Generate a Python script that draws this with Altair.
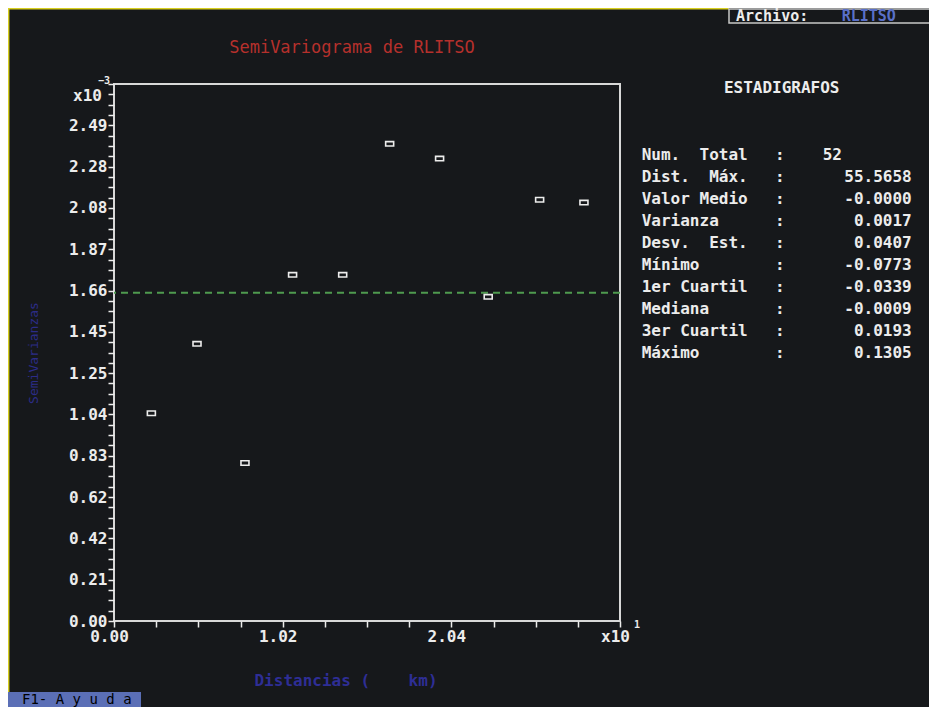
import altair as alt
import pandas as pd

# ---------------- data ----------------
LAG = [0.226, 0.502, 0.792, 1.080, 1.383, 1.667, 1.969, 2.263, 2.574, 2.842]      # x10^1 km
SEMIVAR = [1.044, 1.393, 0.794, 1.740, 1.740, 2.398, 2.324, 1.629, 2.117, 2.103]  # x10^-3
SILL = [1.65]                                                                       # variance line, x10^-3

X_STEP = 1.02
Y_STEP = 0.2076
X_MAX = 3.06
Y_MAX = 2.6988

STAT_NAMES = ["Num.  Total", "Dist.  Máx.", "Valor Medio", "Varianza", "Desv.  Est.",
              "Mínimo", "1er Cuartil", "Mediana", "3er Cuartil", "Máximo"]
STAT_VALUES = ["52", "55.5658", "-0.0000", "0.0017", "0.0407",
               "-0.0773", "-0.0339", "-0.0009", "0.0193", "0.1305"]

TITLE = "SemiVariograma de RLITSO"
X_TITLE = "Distancias (    km)"
Y_TITLE = "SemiVarianzas"

NB = "\u00a0"

# ---------------- style ----------------
BG = "#16181b"
FG = "#ececec"
FONT = "DejaVu Sans Mono"

x_ticks = [round(i * X_STEP / 4, 5) for i in range(13)]
y_ticks = [round(i * Y_STEP / 4, 5) for i in range(53)]

pts = pd.DataFrame({"lag": LAG, "gamma": SEMIVAR})
sill = pd.DataFrame({"gamma": SILL})

x_scale = alt.Scale(domain=[0, X_MAX], nice=False, zero=False)
y_scale = alt.Scale(domain=[0, Y_MAX], nice=False, zero=False)

x_enc = alt.X(
    "lag:Q", scale=x_scale,
    axis=alt.Axis(
        values=x_ticks, title=None, grid=False, domain=False, ticks=True,
        tickSize=6, tickWidth=1.5, tickColor=FG, tickOpacity=1,
        labelExpr="round(datum.value/0.255) % 4 == 0 ? (datum.value > 3 ? 'x10' : format(datum.value, '.2f')) : ''",
        labelFont=FONT, labelFontSize=16, labelFontWeight="bold", labelColor=FG,
        labelPadding=1, labelOffset=-5, labelOverlap=False, labelFlush=False, labelBound=False,
    ),
)
y_enc = alt.Y(
    "gamma:Q", scale=y_scale,
    axis=alt.Axis(
        values=y_ticks, title=None, grid=False, domain=False, ticks=True,
        tickSize=6, tickWidth=1.5, tickColor=FG, tickOpacity=1,
        labelExpr="(round(datum.value/0.0519) % 4 == 0 && datum.value < 2.6) ? format(datum.value, '.2f') : ''",
        labelFont=FONT, labelFontSize=16, labelFontWeight="bold", labelColor=FG,
        labelPadding=1, labelOverlap=False, labelFlush=False, labelBound=False,
    ),
)

points = alt.Chart(pts).mark_point(
    shape="M-1,-0.55L1,-0.55L1,0.55L-1,0.55Z", size=64, filled=False,
    stroke=FG, strokeWidth=1.6, opacity=1,
).encode(x=x_enc, y=y_enc)

sill_rule = alt.Chart(sill).mark_rule(
    color="#4f9a4f", strokeDash=[7, 5], strokeWidth=2
).encode(y=y_enc)

one = pd.DataFrame({"k": [0]})


def txt(text, x, y, color=FG, size=16, align="left", weight="normal", angle=0):
    kw = dict(align=align, baseline="middle", font=FONT, fontSize=size,
              fontWeight=weight, color=color, text=text)
    if angle:
        kw["angle"] = angle
    return alt.Chart(one).mark_text(**kw).encode(x=alt.value(x), y=alt.value(y))


# stats panel
stats = pd.DataFrame({
    "name": [s.replace(" ", NB) for s in STAT_NAMES],
    "value": STAT_VALUES,
    "row": list(range(len(STAT_NAMES))),
})
stats_base = alt.Chart(stats).transform_calculate(
    py="71 + 22*datum.row", vx="datum.row == 0 ? 728 : 797.7"
)
stat_names = stats_base.mark_text(
    align="left", baseline="middle", font=FONT, fontSize=16, fontWeight="bold", color=FG
).encode(x=alt.value(527.7), y=alt.Y("py:Q", scale=None), text="name:N")
stat_colons = stats_base.mark_text(
    align="left", baseline="middle", font=FONT, fontSize=16, fontWeight="bold", color=FG, text=":"
).encode(x=alt.value(661), y=alt.Y("py:Q", scale=None))
stat_values = stats_base.mark_text(
    align="right", baseline="middle", font=FONT, fontSize=16, fontWeight="bold", color=FG
).encode(x=alt.X("vx:Q", scale=None), y=alt.Y("py:Q", scale=None), text="value:N")

# boxes and borders
archivo_box = alt.Chart(one).mark_rect(fill=BG, stroke="#c8c8c8", strokeWidth=1.5).encode(
    x=alt.value(615), x2=alt.value(840), y=alt.value(-75), y2=alt.value(-61))
f1_box = alt.Chart(one).mark_rect(fill="#5b6fb6").encode(
    x=alt.value(-106), x2=alt.value(27), y=alt.value(608), y2=alt.value(623))
yellow_v = alt.Chart(one).mark_rule(color="#d8d021", strokeWidth=1.5).encode(
    x=alt.value(-105.3), y=alt.value(-76), y2=alt.value(608))
yellow_h = alt.Chart(one).mark_rule(color="#d8d021", strokeWidth=1.5).encode(
    x=alt.value(-106), x2=alt.value(615), y=alt.value(-75.3))

layers = [
    yellow_v, yellow_h, archivo_box, f1_box,
    sill_rule, points,
    txt(TITLE, 238, -36, color="#b5302c", size=17, align="center"),
    txt("Archivo:", 622, -68, size=15, weight="bold"),
    txt("RLITSO", 727.7, -68, color="#5a70c8", size=15, weight="bold"),
    txt("ESTADIGRAFOS", 667.7, 4, size=16, align="center", weight="bold"),
    stat_names, stat_colons, stat_values,
    txt(Y_TITLE, -80, 269, color="#2c2c88", size=13, align="center", angle=270),
    txt(X_TITLE.replace(" ", NB), 232, 597, color="#2e2e96", size=16, align="center", weight="bold"),
    txt("x10", -12, 12, size=16, align="right", weight="bold"),
    txt("\u2212" + "3", -4, -3, size=10, align="right", weight="bold"),
    txt("1", 520, 541, size=10, align="left", weight="bold"),
    txt("F1-" + NB + "A" + NB + "y" + NB + "u" + NB + "d" + NB + "a", -92, 616, color="#000000", size=14),
]

chart = alt.layer(*layers).properties(
    width=506, height=537,
    padding={"left": 106, "top": 76, "right": 309, "bottom": 86},
    autosize=alt.AutoSizeParams(type="none"),
    background=BG,
).configure_view(stroke="#d8d8d8", strokeWidth=2, fill=BG)

chart.save("out.html", embed_options={"renderer": "svg", "actions": False})
